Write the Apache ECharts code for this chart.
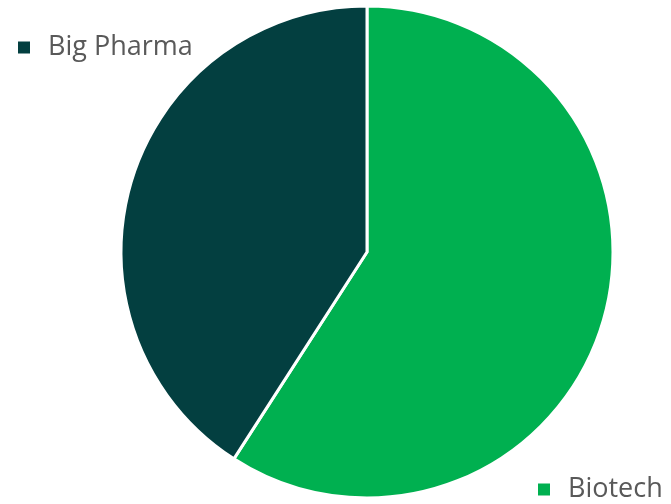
<!DOCTYPE html>
<html lang="en">
<head>
	<meta charset="utf-8">
	<title>Big Pharma vs Biotech</title>
	<script src="https://cdn.jsdelivr.net/npm/echarts@6/dist/echarts.min.js"></script>
	<style type="text/css">
		html, body {margin:0;padding:0;background:#ffffff}
		#chart {width:671px;height:504px}
	</style>
</head>
<body>
	<div id="chart"></div>
	<script>
		// data
		var categories = ["Biotech", "Big Pharma"];
		var shares = [59.1, 40.9];
		var colors = ["#00B050", "#033F40"];

		var myChart = echarts.init(document.getElementById("chart"));

		var legendText = {
			fontSize: 27,
			fontFamily: "Open Sans",
			color: "#595959",
			padding: [0, 0, 0, 12]
		};

		var option = {
			animation: false,
			color: colors,
			legend: [
				{
					data: ["Big Pharma"],
					left: 16,
					top: 34,
					padding: 0,
					icon: "rect",
					itemWidth: 14,
					itemHeight: 14,
					textStyle: legendText,
					selectedMode: false
				},
				{
					data: ["Biotech"],
					left: 536,
					top: 476,
					padding: 0,
					icon: "rect",
					itemWidth: 14,
					itemHeight: 14,
					textStyle: legendText,
					selectedMode: false
				}
			],
			series: [
				{
					type: "pie",
					center: [367, 252],
					radius: 246,
					startAngle: 90,
					clockwise: true,
					label: {show: false},
					labelLine: {show: false},
					emphasis: {disabled: true},
					itemStyle: {
						borderColor: "#ffffff",
						borderWidth: 3
					},
					data: categories.map(function (c, i) {
						return {name: c, value: shares[i]};
					})
				}
			]
		};

		myChart.setOption(option);
	</script>
</body>
</html>
